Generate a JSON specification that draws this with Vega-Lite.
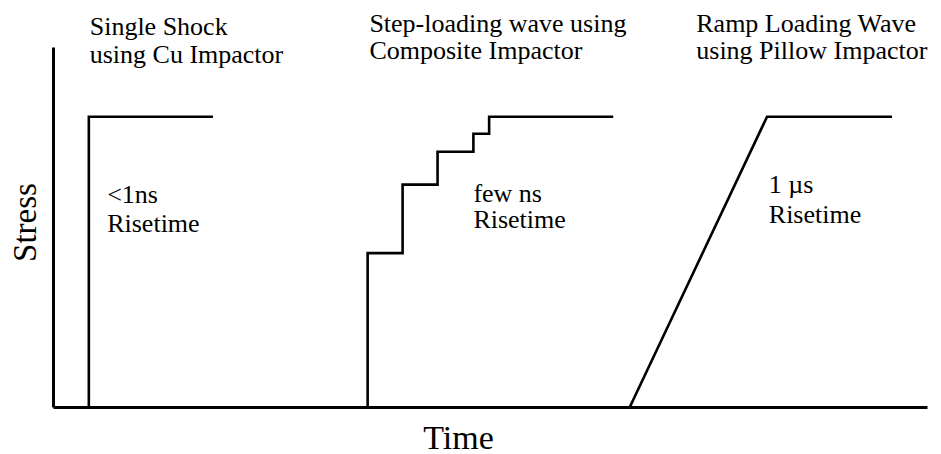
{
  "$schema": "https://vega.github.io/schema/vega-lite/v6.json",
  "autosize": "none",
  "width": 874,
  "height": 360,
  "padding": {"left": 53, "top": 47, "right": 14, "bottom": 47},
  "background": "white",
  "config": {
    "view": {"stroke": null},
    "font": "Liberation Serif"
  },
  "datasets": {
    "waves": [
      {"series": "single", "ord": 1, "time": 4.1, "stress": 0},
      {"series": "single", "ord": 2, "time": 4.1, "stress": 1},
      {"series": "single", "ord": 3, "time": 18.3, "stress": 1},
      {"series": "step", "ord": 1, "time": 36.0, "stress": 0},
      {"series": "step", "ord": 2, "time": 36.0, "stress": 0.53},
      {"series": "step", "ord": 3, "time": 40.0, "stress": 0.53},
      {"series": "step", "ord": 4, "time": 40.0, "stress": 0.766},
      {"series": "step", "ord": 5, "time": 44.0, "stress": 0.766},
      {"series": "step", "ord": 6, "time": 44.0, "stress": 0.879},
      {"series": "step", "ord": 7, "time": 48.1, "stress": 0.879},
      {"series": "step", "ord": 8, "time": 48.1, "stress": 0.941},
      {"series": "step", "ord": 9, "time": 49.9, "stress": 0.941},
      {"series": "step", "ord": 10, "time": 49.9, "stress": 1},
      {"series": "step", "ord": 11, "time": 64.1, "stress": 1},
      {"series": "ramp", "ord": 1, "time": 66.0, "stress": 0},
      {"series": "ramp", "ord": 2, "time": 81.7, "stress": 1},
      {"series": "ramp", "ord": 3, "time": 96.0, "stress": 1}
    ],
    "labels": [
      {"label": "Single Shock", "time": 4.2, "stress": 1.283},
      {"label": "using Cu Impactor", "time": 4.2, "stress": 1.186},
      {"label": "Step-loading wave using", "time": 36.2, "stress": 1.293},
      {"label": "Composite Impactor", "time": 36.2, "stress": 1.2},
      {"label": "Ramp Loading Wave", "time": 73.6, "stress": 1.293},
      {"label": "using Pillow Impactor", "time": 73.6, "stress": 1.2},
      {"label": "<1ns", "time": 6.2, "stress": 0.703},
      {"label": "Risetime", "time": 6.2, "stress": 0.603},
      {"label": "few ns", "time": 48.1, "stress": 0.707},
      {"label": "Risetime", "time": 48.1, "stress": 0.617},
      {"label": "1 µs", "time": 81.9, "stress": 0.738},
      {"label": "Risetime", "time": 81.9, "stress": 0.634}
    ]
  },
  "layer": [
    {
      "data": {"name": "waves"},
      "mark": {"type": "line", "color": "black", "strokeWidth": 2.6, "strokeJoin": "miter"},
      "encoding": {
        "x": {
          "field": "time", "type": "quantitative",
          "scale": {"domain": [0, 100], "nice": false, "zero": false},
          "axis": {
            "title": "Time", "ticks": false, "labels": false, "grid": false,
            "domainColor": "black", "domainWidth": 3,
            "titleFont": "Liberation Serif", "titleFontSize": 34, "titleFontWeight": "normal",
            "titleColor": "black", "titleX": 405, "titleY": 41, "titleBaseline": "alphabetic", "titleAlign": "center"
          }
        },
        "y": {
          "field": "stress", "type": "quantitative",
          "scale": {"domain": [0, 1.24], "nice": false, "zero": false},
          "axis": {
            "title": "Stress", "ticks": false, "labels": false, "grid": false,
            "domainColor": "black", "domainWidth": 3,
            "titleFont": "Liberation Serif", "titleFontSize": 33, "titleFontWeight": "normal",
            "titleColor": "black", "titleAngle": -90, "titleX": -18, "titleY": 175,
            "titleBaseline": "alphabetic", "titleAlign": "center"
          }
        },
        "detail": {"field": "series"},
        "order": {"field": "ord", "type": "quantitative"}
      }
    },
    {
      "data": {"name": "labels"},
      "mark": {"type": "text", "align": "left", "baseline": "alphabetic", "font": "Liberation Serif", "fontSize": 26, "color": "black"},
      "encoding": {
        "x": {"field": "time", "type": "quantitative"},
        "y": {"field": "stress", "type": "quantitative"},
        "text": {"field": "label"}
      }
    }
  ]
}
